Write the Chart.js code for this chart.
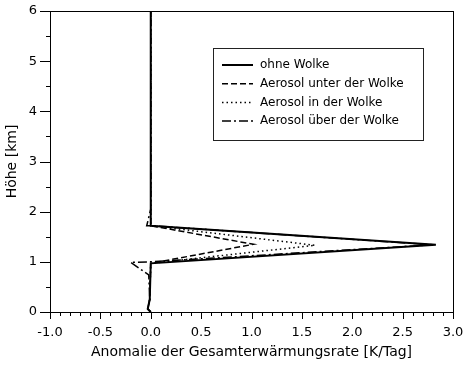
<!DOCTYPE html>
<html>
<head>
<meta charset="utf-8">
<script src="https://cdn.jsdelivr.net/npm/chart.js@4.4.0/dist/chart.umd.min.js"></script>
<style>
  body { margin: 0; background: #fff; }
  canvas { display: block; }
</style>
</head>
<body>
<canvas id="profil" width="464" height="367"></canvas>
<script>
// Höhen [km] und Anomalien [K/Tag]
const ohneHoehe = [0, 0.06, 0.25, 0.97, 1.34, 1.72, 6];
const ohneWerte = [0, -0.03, -0.01, 0, 2.83, 0, 0];

const unterHoehe = [0, 0.06, 0.25, 0.97, 1.35, 1.72, 6];
const unterWerte = [0, -0.03, -0.01, 0, 1.02, 0, 0];

const inHoehe = [0, 0.06, 0.25, 0.97, 1.33, 1.72, 6];
const inWerte = [0, -0.03, -0.01, 0, 1.63, 0, 0];

const ueberHoehe = [0, 0.06, 0.25, 0.74, 0.99, 1.0, 1.34, 1.72, 1.72, 2.05, 6];
const ueberWerte = [0, -0.03, -0.01, -0.02, -0.2, 0, 2.8, 0, -0.04, 0, 0];

const labels = ["ohne Wolke", "Aerosol unter der Wolke", "Aerosol in der Wolke", "Aerosol über der Wolke"];

const xTicks = [-1.0, -0.5, 0.0, 0.5, 1.0, 1.5, 2.0, 2.5, 3.0];
const yTicks = [0, 1, 2, 3, 4, 5, 6];

const punkte = (werte, hoehe) => werte.map((v, i) => ({ x: v, y: hoehe[i] }));

const FONT = "'DejaVu Sans', 'Liberation Sans', Arial, sans-serif";

// Rahmen und Teilstriche (nach außen)
const rahmen = {
    id: "rahmen",
    afterDraw(chart) {
        const { ctx, chartArea: a, scales: { x, y } } = chart;
        ctx.save();
        ctx.strokeStyle = "#000";
        ctx.lineWidth = 1;
        ctx.strokeRect(a.left + 0.5, a.top + 0.5, a.right - a.left, a.bottom - a.top);
        ctx.beginPath();
        for (let i = 0; i <= 40; i++) {
            const px = Math.round(x.getPixelForValue(-1 + i * 0.1)) + 0.5;
            const len = i % 5 === 0 ? 7 : 4;
            ctx.moveTo(px, a.bottom);
            ctx.lineTo(px, a.bottom + len);
        }
        for (let i = 0; i <= 12; i++) {
            const py = Math.round(y.getPixelForValue(i * 0.5)) + 0.5;
            const len = i % 2 === 0 ? 10 : 4;
            ctx.moveTo(a.left, py);
            ctx.lineTo(a.left - len, py);
        }
        ctx.stroke();
        ctx.restore();
    },
};

// Legende im Diagramm
const legende = {
    id: "legende",
    afterDraw(chart, args, opts) {
        const { ctx } = chart;
        ctx.save();
        ctx.fillStyle = "#fff";
        ctx.fillRect(opts.x, opts.y, opts.w, opts.h);
        ctx.strokeStyle = "#222";
        ctx.lineWidth = 1;
        ctx.strokeRect(opts.x + 0.5, opts.y + 0.5, opts.w, opts.h);
        ctx.font = "12px " + FONT;
        ctx.textBaseline = "middle";
        chart.data.datasets.forEach((ds, i) => {
            const ly = opts.y + opts.first + i * opts.step;
            ctx.beginPath();
            ctx.setLineDash(ds.borderDash || []);
            ctx.lineWidth = ds.borderWidth;
            ctx.strokeStyle = ds.borderColor;
            ctx.moveTo(opts.x + 9, ly);
            ctx.lineTo(opts.x + 40, ly);
            ctx.stroke();
            ctx.setLineDash([]);
            ctx.fillStyle = "#000";
            ctx.fillText(ds.label, opts.x + 47, ly);
        });
        ctx.restore();
    },
};

const ctx = document.getElementById("profil");

new Chart(ctx, {
    type: "scatter",
    data: {
        datasets: [
            {
                label: labels[0],
                data: punkte(ohneWerte, ohneHoehe),
                borderColor: "#000",
                borderWidth: 2,
            },
            {
                label: labels[1],
                data: punkte(unterWerte, unterHoehe),
                borderColor: "#000",
                borderWidth: 1.5,
                borderDash: [6, 3],
            },
            {
                label: labels[2],
                data: punkte(inWerte, inHoehe),
                borderColor: "#000",
                borderWidth: 1.5,
                borderDash: [1.5, 3],
            },
            {
                label: labels[3],
                data: punkte(ueberWerte, ueberHoehe),
                borderColor: "#000",
                borderWidth: 1.5,
                borderDash: [9, 3, 2, 3],
            },
        ],
    },
    options: {
        responsive: false,
        animation: false,
        showLine: true,
        elements: {
            point: { radius: 0, hoverRadius: 0 },
            line: { tension: 0, fill: false },
        },
        layout: { padding: { top: 11, right: 11, left: 0, bottom: 0 } },
        plugins: {
            legend: { display: false },
            tooltip: { enabled: false },
            legende: { x: 213, y: 48, w: 210, h: 92, first: 17, step: 18.7 },
        },
        scales: {
            x: {
                type: "linear",
                min: -1,
                max: 3,
                afterBuildTicks: (s) => { s.ticks = xTicks.map((v) => ({ value: v })); },
                afterFit: (s) => {
                    s.height = 55;
                    s.paddingLeft = 0;
                    s.paddingRight = 0;
                },
                ticks: {
                    color: "#000",
                    padding: 13,
                    maxRotation: 0,
                    font: { family: FONT, size: 13 },
                    callback: (v) => Number(v).toFixed(1),
                },
                grid: { display: false, drawTicks: false },
                border: { display: false },
                title: {
                    display: true,
                    text: "Anomalie der Gesamterwärmungsrate [K/Tag]",
                    color: "#000",
                    font: { family: FONT, size: 14 },
                    padding: { top: 0, bottom: 6 },
                },
            },
            y: {
                type: "linear",
                min: 0,
                max: 6,
                afterBuildTicks: (s) => { s.ticks = yTicks.map((v) => ({ value: v })); },
                afterFit: (s) => {
                    s.width = 50;
                    s.paddingTop = 0;
                    s.paddingBottom = 0;
                },
                ticks: {
                    color: "#000",
                    padding: 13,
                    font: { family: FONT, size: 13 },
                    callback: (v) => String(v),
                },
                grid: { display: false, drawTicks: false },
                border: { display: false },
                title: {
                    display: true,
                    text: "Höhe [km]",
                    color: "#000",
                    font: { family: FONT, size: 14 },
                    padding: { top: 4, bottom: 0 },
                },
            },
        },
    },
    plugins: [rahmen, legende],
});
</script>
</body>
</html>
